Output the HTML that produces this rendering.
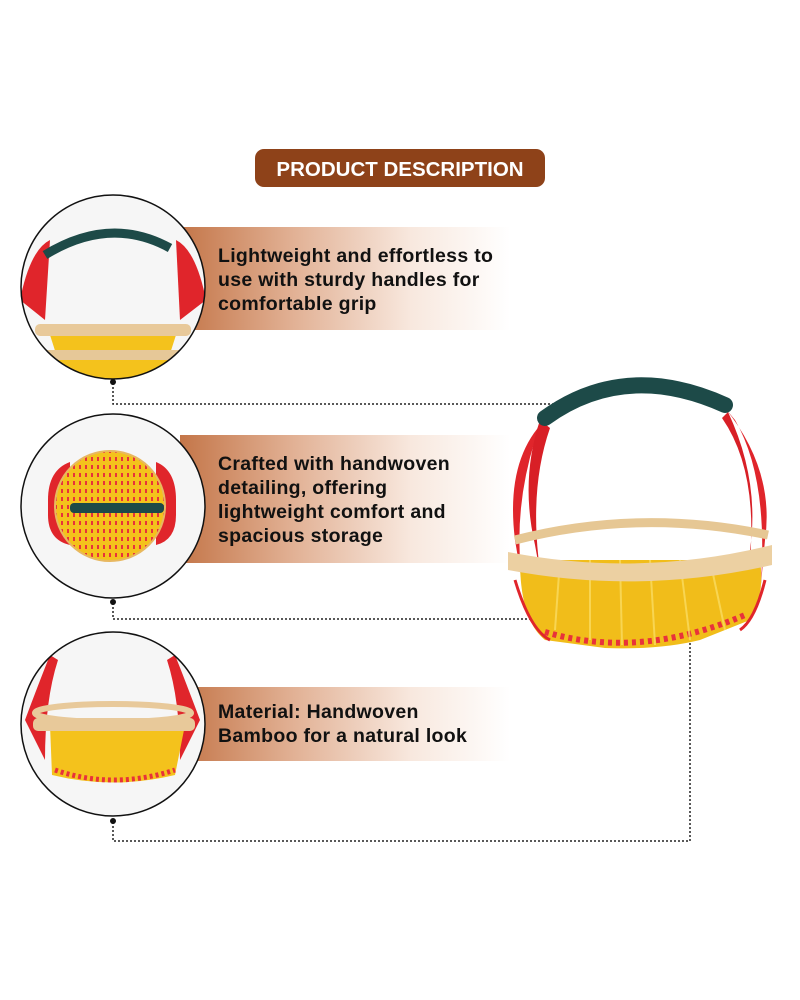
<!DOCTYPE html>
<html><head><meta charset="utf-8"><style>
html,body{margin:0;padding:0;background:#fff}
svg{display:block}
text{font-family:"Liberation Sans",sans-serif;font-weight:bold}
</style></head><body>
<svg width="800" height="1000" viewBox="0 0 800 1000" xmlns="http://www.w3.org/2000/svg">
<defs>
<linearGradient id="band" x1="0" x2="1" y1="0" y2="0">
<stop offset="0" stop-color="#c47649"/>
<stop offset="0.35" stop-color="#e2b296"/>
<stop offset="0.7" stop-color="#f8e8de"/>
<stop offset="1" stop-color="#ffffff"/>
</linearGradient>
<clipPath id="c1"><circle cx="113" cy="287" r="92"/></clipPath>
<clipPath id="c2"><circle cx="113" cy="506" r="92"/></clipPath>
<clipPath id="c3"><circle cx="113" cy="724" r="92"/></clipPath>
<pattern id="weave" width="6" height="8" patternUnits="userSpaceOnUse">
<rect width="6" height="8" fill="#f4c21c"/><rect x="1" y="1" width="2" height="4" fill="#e8323a"/>
</pattern>
</defs>
<rect x="255" y="149" width="290" height="38" rx="9" fill="#8e4219"/>
<text x="400" y="176" text-anchor="middle" font-size="20.5" fill="#fff">PRODUCT DESCRIPTION</text>

<rect x="180" y="227" width="330" height="103" fill="url(#band)"/>
<rect x="180" y="435" width="330" height="128" fill="url(#band)"/>
<rect x="180" y="687" width="330" height="74" fill="url(#band)"/>

<g font-size="19.5" fill="#111" letter-spacing="0.3">
<text x="218" y="262">Lightweight and effortless to</text>
<text x="218" y="286">use with sturdy handles for</text>
<text x="218" y="310">comfortable grip</text>
<text x="218" y="470">Crafted with handwoven</text>
<text x="218" y="494">detailing, offering</text>
<text x="218" y="518">lightweight comfort and</text>
<text x="218" y="542">spacious storage</text>
<text x="218" y="718">Material: Handwoven</text>
<text x="218" y="742">Bamboo for a natural look</text>
</g>

<!-- circle 1 -->
<circle cx="113" cy="287" r="92" fill="#f6f6f6"/>
<g clip-path="url(#c1)">
<path d="M20 300 Q30 250 50 240 L45 320 Z" fill="#e0252b"/>
<path d="M206 300 Q196 250 176 240 L180 320 Z" fill="#e0252b"/>
<path d="M45 255 Q110 215 170 248" stroke="#1d4a48" stroke-width="9" fill="none"/>
<path d="M50 335 L176 335 L160 385 L66 385 Z" fill="#f4c21c"/>
<rect x="35" y="324" width="156" height="12" rx="5" fill="#e8c99a"/>
<rect x="40" y="350" width="146" height="10" rx="4" fill="#e6c898"/>
</g>
<circle cx="113" cy="287" r="92" fill="none" stroke="#111" stroke-width="1.5"/>

<!-- circle 2 -->
<circle cx="113" cy="506" r="92" fill="#f6f6f6"/>
<g clip-path="url(#c2)">
<path d="M48 500 Q48 470 70 462 L70 545 Q48 540 48 515 Z" fill="#e0252b"/>
<path d="M176 500 Q176 470 156 462 L156 545 Q176 540 176 515 Z" fill="#e0252b"/>
<ellipse cx="110" cy="506" rx="55" ry="55" fill="url(#weave)" stroke="#e8b860" stroke-width="2"/>
<rect x="70" y="503" width="94" height="10" rx="4" fill="#1d4a48"/>
</g>
<circle cx="113" cy="506" r="92" fill="none" stroke="#111" stroke-width="1.5"/>

<!-- circle 3 -->
<circle cx="113" cy="724" r="92" fill="#f6f6f6"/>
<g clip-path="url(#c3)">
<path d="M25 720 Q40 680 50 655 L58 660 Q45 700 45 760 Z" fill="#e0252b"/>
<path d="M200 720 Q185 680 175 655 L167 660 Q180 700 180 760 Z" fill="#e0252b"/>
<path d="M50 725 L185 725 L175 775 Q113 790 52 775 Z" fill="#f4c21c"/>
<path d="M55 770 Q113 790 175 770" stroke="#e8323a" stroke-width="5" stroke-dasharray="3 3" fill="none"/>
<ellipse cx="113" cy="713" rx="78" ry="9" fill="none" stroke="#e8c99a" stroke-width="6"/>
<rect x="33" y="718" width="162" height="13" rx="5" fill="#e8c99a"/>
</g>
<circle cx="113" cy="724" r="92" fill="none" stroke="#111" stroke-width="1.5"/>

<!-- connectors -->
<g stroke="#222" stroke-width="1.5" stroke-dasharray="2 2" fill="none">
<path d="M113 383 V404 H572"/>
<path d="M113 603 V619 H572"/>
<path d="M113 822 V841 H690 V605"/>
</g>
<g fill="#111">
<circle cx="113" cy="382" r="3"/><circle cx="113" cy="602" r="3"/><circle cx="113" cy="821" r="3"/>
<circle cx="572" cy="403" r="3.5"/><circle cx="572" cy="618" r="3.5"/><circle cx="690" cy="605" r="3.5"/>
</g>

<!-- main basket -->
<g>
<path d="M545 420 Q505 460 515 540 L525 600 Q510 520 535 440 Z" fill="#e0252b"/>
<path d="M540 420 Q520 480 535 545 L545 600 Q525 500 550 428 Z" fill="#d81f26"/>
<path d="M725 408 Q775 470 765 540 L760 595 Q770 480 735 420 Z" fill="#e0252b"/>
<path d="M728 412 Q760 480 750 550 L745 600 Q765 480 722 418 Z" fill="#d81f26"/>
<path d="M545 418 Q625 360 725 405" stroke="#1d4a48" stroke-width="16" fill="none" stroke-linecap="round"/>
<path d="M520 560 Q520 620 545 640 L605 648 Q660 650 700 640 L750 620 Q765 595 760 560 Z" fill="#f1bd1a"/>
<path d="M545 632 Q640 660 745 615" stroke="#e8323a" stroke-width="6" stroke-dasharray="4 4" fill="none"/>
<path d="M515 580 Q530 630 550 640" stroke="#e0252b" stroke-width="3" fill="none"/>
<path d="M765 580 Q755 620 740 630" stroke="#e0252b" stroke-width="3" fill="none"/>
<g stroke="#fbe06a" stroke-width="2" opacity="0.7">
<line x1="560" y1="560" x2="555" y2="630"/><line x1="590" y1="560" x2="590" y2="640"/><line x1="620" y1="560" x2="622" y2="645"/><line x1="650" y1="560" x2="655" y2="645"/><line x1="680" y1="560" x2="690" y2="640"/><line x1="710" y1="560" x2="725" y2="630"/>
</g>
<path d="M515 540 Q640 508 768 535" stroke="#e6c794" stroke-width="9" fill="none"/>
<path d="M508 552 Q640 578 772 545 L772 565 Q640 595 508 570 Z" fill="#ecd0a2"/>
</g>
</svg>
</body></html>
